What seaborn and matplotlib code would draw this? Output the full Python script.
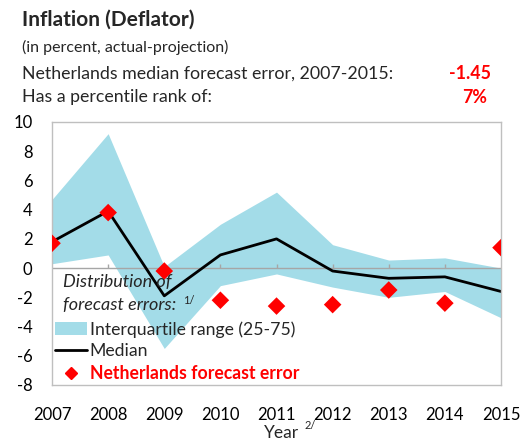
import matplotlib
matplotlib.use("Agg")
import matplotlib.pyplot as plt
import seaborn as sns
import pandas as pd
from matplotlib.patches import Patch
from matplotlib.lines import Line2D

years = [2007, 2008, 2009, 2010, 2011, 2012, 2013, 2014, 2015]
iqr_upper = [4.7, 9.2, 0.1, 3.0, 5.2, 1.6, 0.55, 0.7, 0.0]
iqr_lower = [0.3, 0.9, -5.5, -1.2, -0.4, -1.3, -2.0, -1.6, -3.4]
median = [1.8, 3.9, -1.9, 0.9, 2.0, -0.2, -0.7, -0.6, -1.6]
nl_error = [1.7, 3.8, -0.2, -2.2, -2.6, -2.5, -1.5, -2.4, 1.4]
yticks = [10, 8, 6, 4, 2, 0, -2, -4, -6, -8]

sns.set_theme(style="white")
FONT = ["Lato", "DejaVu Sans"]
plt.rcParams["font.family"] = FONT

df = pd.DataFrame({"year": years, "median": median, "nl": nl_error})

fig = plt.figure(figsize=(5.31, 4.42), dpi=100)
ax = fig.add_axes([0.098, 0.129, 0.8455, 0.595])

band_col = "#A3DCE8"
ax.fill_between(years, iqr_lower, iqr_upper, color=band_col, lw=0, zorder=1)
ax.axhline(0, color="#A6A6A6", lw=1, zorder=1.5)
ax.vlines(years[1:-1], 0, 0.3, color="#A6A6A6", lw=1, zorder=1.5)
sns.lineplot(data=df, x="year", y="median", color="black", lw=2, ax=ax, zorder=2)
sns.scatterplot(data=df, x="year", y="nl", marker="D", color="#FF0000", s=80,
                edgecolor="none", ax=ax, zorder=3)

ax.set_xlim(2007, 2015)
ax.set_ylim(-8, 10)
ax.set_yticks(yticks)
ax.set_yticklabels([str(v) for v in yticks])
ax.set_xticks(years)
ax.set_xticklabels([str(y) for y in years])
ax.tick_params(axis="both", labelsize=12, length=0, colors="black")
ax.tick_params(axis="x", pad=16)
ax.tick_params(axis="y", pad=14)
ax.set_xlabel("")
ax.set_ylabel("")
for s in ax.spines.values():
    s.set_color("#BFBFBF")
    s.set_linewidth(1)

# x label
fig.text(0.531, 0.003, "Year", fontsize=12.5, ha="center", va="bottom")
fig.text(0.574, 0.026, "2/", fontsize=8, ha="left", va="bottom")

# legend-like annotations
ax.text(0.024, 0.392, "Distribution of", transform=ax.transAxes, fontsize=13,
        style="italic", va="center", ha="left")
ax.text(0.024, 0.304, "forecast errors:", transform=ax.transAxes, fontsize=13,
        style="italic", va="center", ha="left")
ax.text(0.292, 0.323, "1/", transform=ax.transAxes, fontsize=8,
        va="center", ha="left")

handles = [Patch(facecolor=band_col, edgecolor="none"),
           Line2D([0], [0], color="black", lw=2),
           Line2D([0], [0], marker="D", color="#FF0000", lw=0, markersize=6)]
labels = ["Interquartile range (25-75)", "Median", "Netherlands forecast error"]
leg = ax.legend(handles, labels, loc="lower left", bbox_to_anchor=(-0.02, -0.035),
                frameon=False, fontsize=12.7, handlelength=1.8, handletextpad=0.15,
                labelspacing=0.32, borderaxespad=0.3)
t = leg.get_texts()[2]
t.set_color("#FF0000")
t.set_fontweight("bold")

# header
fig.text(0.041, 0.955, "Inflation (Deflator)", fontsize=15, fontweight="bold",
         ha="left", va="center")
fig.text(0.041, 0.893, "(in percent, actual-projection)", fontsize=11.5,
         ha="left", va="center")
fig.text(0.041, 0.834, "Netherlands median forecast error, 2007-2015:", fontsize=12.8,
         ha="left", va="center")
fig.text(0.924, 0.834, "-1.45", fontsize=12.8, fontweight="bold", color="#FF0000",
         ha="right", va="center")
fig.text(0.041, 0.780, "Has a percentile rank of:", fontsize=12.8,
         ha="left", va="center")
fig.text(0.917, 0.780, "7%", fontsize=12.8, fontweight="bold", color="#FF0000",
         ha="right", va="center")

fig.savefig("out.png", dpi=100)
